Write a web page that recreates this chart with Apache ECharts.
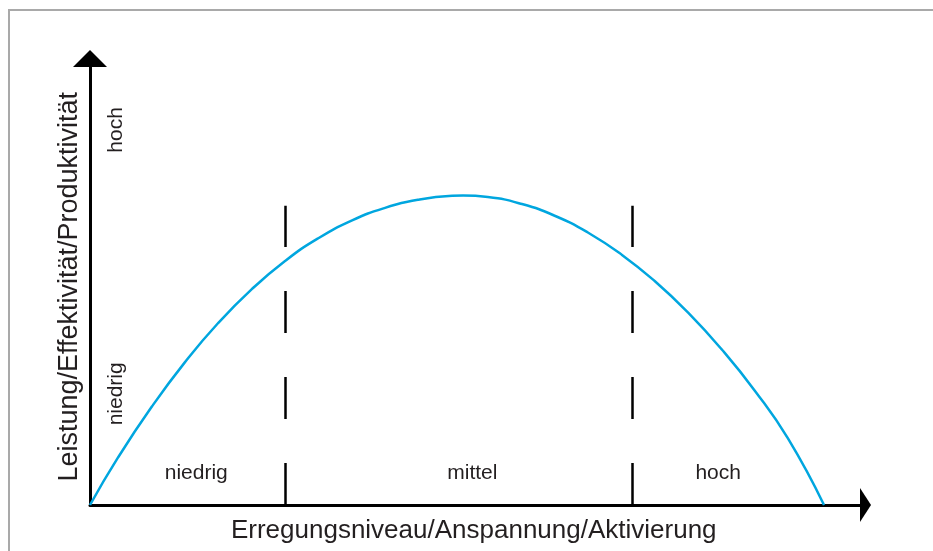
<!DOCTYPE html>
<html>
<head>
    <meta charset="UTF-8">
    <title>Yerkes-Dodson</title>
    <style>
        html, body {
            margin: 0;
            padding: 0;
            background: #fff;
        }

        .frame {
            position: absolute;
            left: 8px;
            top: 9px;
            width: 930px;
            height: 550px;
            border-left: 2px solid #a9a9a9;
            border-top: 2px solid #a9a9a9;
        }

        #chart {
            position: absolute;
            left: 0;
            top: 0;
            width: 933px;
            height: 551px;
        }
    </style>
    <script src="https://cdn.jsdelivr.net/npm/echarts@6/dist/echarts.min.js"></script>
</head>
<body>
<div class="frame"></div>
<div id="chart"></div>
<script>
    // curve (arousal 0..100, performance 0..100)
    var arousal = [0, 3.6, 8.0, 12.25, 16.5, 20.9, 25.15, 29.4, 33.8, 38.05, 42.3, 46.7, 48.1,
        51.3, 55.7, 60.0, 64.2, 68.6, 72.85, 77.1, 81.5, 85.75, 90.0, 94.65];
    var performance = [0, 10.6, 22.1, 32.0, 40.7, 48.4, 54.65, 59.7, 63.75, 66.55, 68.35, 69.24, 69.3,
        68.97, 67.4, 64.73, 61.03, 56.01, 50.1, 43.13, 34.77, 25.55, 14.9, 0];

    // zone borders on the arousal axis and height of the dashed lines
    var zoneBorders = [25.2, 69.9];
    var borderTop = 67;

    // zone names under the curve
    var zoneNames = ['niedrig', 'mittel', 'hoch'];
    var zoneNameX = [13.7, 49.3, 81.0];
    var zoneNameY = 7.2;

    // level names beside the y axis
    var levelNames = ['hoch', 'niedrig'];
    var levelNameX = 3.4;
    var levelNameY = [84.0, 24.9];

    var xTitle = 'Erregungsniveau/Anspannung/Aktivierung';
    var yTitle = 'Leistung/Effektivität/Produktivität';

    var textColor = '#231f20';
    var font = "'Liberation Sans', Arial, sans-serif";

    var curve = arousal.map(function (x, i) {
        return [x, performance[i]];
    });
    var borderLines = zoneBorders.map(function (x) {
        return [{coord: [x, 0]}, {coord: [x, borderTop]}];
    });
    var zoneData = zoneNames.map(function (n, i) {
        return {name: n, value: [zoneNameX[i], zoneNameY]};
    });
    var levelData = levelNames.map(function (n, i) {
        return {name: n, value: [levelNameX, levelNameY[i]]};
    });

    var chart = echarts.init(document.getElementById('chart'), null, {renderer: 'canvas'});
    chart.setOption({
        animation: false,
        grid: {left: 90, right: 67.5, top: 58.5, bottom: 46},
        xAxis: {
            type: 'value',
            min: 0,
            max: 100,
            name: xTitle,
            nameLocation: 'middle',
            nameGap: 13,
            nameTextStyle: {fontSize: 26, color: textColor, fontFamily: font, padding: [0, 8, 0, 0]},
            axisLine: {
                onZero: false,
                symbol: ['none', 'triangle'],
                symbolSize: [34, 11],
                lineStyle: {color: '#000', width: 3}
            },
            axisTick: {show: false},
            axisLabel: {show: false},
            splitLine: {show: false}
        },
        yAxis: {
            type: 'value',
            min: 0,
            max: 100,
            name: yTitle,
            nameLocation: 'middle',
            nameGap: 7,
            nameTextStyle: {fontSize: 27, color: textColor, fontFamily: font, padding: [0, 10, 0, 0]},
            axisLine: {
                onZero: false,
                symbol: ['none', 'triangle'],
                symbolSize: [34, 17],
                lineStyle: {color: '#000', width: 3}
            },
            axisTick: {show: false},
            axisLabel: {show: false},
            splitLine: {show: false}
        },
        series: [
            {
                type: 'line',
                data: curve,
                smooth: true,
                showSymbol: false,
                lineStyle: {color: '#00a6df', width: 2.5},
                markLine: {
                    silent: true,
                    symbol: ['none', 'none'],
                    label: {show: false},
                    lineStyle: {color: '#000', width: 2.5, type: [42, 44]},
                    data: borderLines
                }
            },
            {
                type: 'scatter',
                data: zoneData,
                symbolSize: 0,
                silent: true,
                itemStyle: {opacity: 1},
                label: {
                    show: true,
                    position: 'inside',
                    formatter: '{b}',
                    fontSize: 21,
                    color: textColor,
                    fontFamily: font
                }
            },
            {
                type: 'scatter',
                data: levelData,
                symbolSize: 0,
                silent: true,
                itemStyle: {opacity: 1},
                label: {
                    show: true,
                    position: 'inside',
                    rotate: 90,
                    formatter: '{b}',
                    fontSize: 21,
                    color: textColor,
                    fontFamily: font
                }
            }
        ]
    });
</script>
</body>
</html>
